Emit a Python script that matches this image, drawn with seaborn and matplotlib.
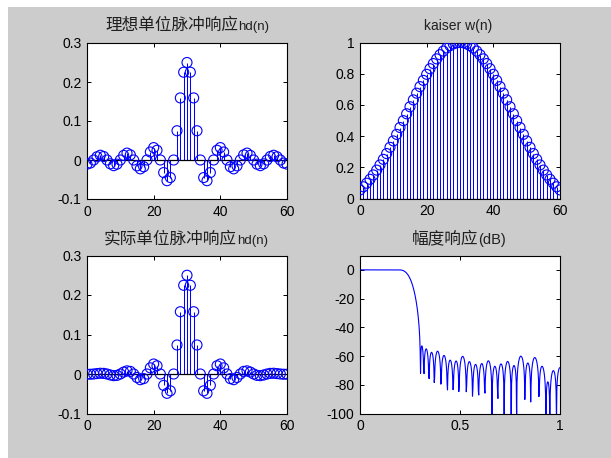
# FIR lowpass design with a kaiser window (N = 61), four panels like the MATLAB figure
import numpy as np
import pandas as pd
import matplotlib.pyplot as plt
from matplotlib.patches import Rectangle
import seaborn as sns

n = list(range(61))

# ideal impulse response hd(n) (n = 0 .. 60)
hd = [-0.0106, -0.0078, 0.0, 0.0083, 0.0122, 0.0090, 0.0, -0.0098, -0.0145, -0.0107,
      0.0, 0.0118, 0.0177, 0.0132, 0.0, -0.0150, -0.0227, -0.0173, 0.0, 0.0205,
      0.0318, 0.0250, 0.0, -0.0322, -0.0531, -0.0450, 0.0, 0.0750, 0.1592, 0.2251,
      0.2500,
      0.2251, 0.1592, 0.0750, 0.0, -0.0450, -0.0531, -0.0322, 0.0, 0.0250, 0.0318,
      0.0205, 0.0, -0.0173, -0.0227, -0.0150, 0.0, 0.0132, 0.0177, 0.0118, 0.0,
      -0.0107, -0.0145, -0.0098, 0.0, 0.0090, 0.0122, 0.0083, 0.0, -0.0078, -0.0106]

# kaiser window w(n)
wn = [0.055, 0.075, 0.098, 0.123, 0.151, 0.182, 0.215, 0.251, 0.288, 0.328,
      0.369, 0.411, 0.455, 0.499, 0.543, 0.588, 0.632, 0.675, 0.717, 0.757,
      0.796, 0.832, 0.865, 0.895, 0.922, 0.945, 0.965, 0.980, 0.991, 0.998,
      1.000,
      0.998, 0.991, 0.980, 0.965, 0.945, 0.922, 0.895, 0.865, 0.832, 0.796,
      0.757, 0.717, 0.675, 0.632, 0.588, 0.543, 0.499, 0.455, 0.411, 0.369,
      0.328, 0.288, 0.251, 0.215, 0.182, 0.151, 0.123, 0.098, 0.075, 0.055]

# actual impulse response h(n) = hd(n) * w(n)
h = [-0.0006, -0.0006, 0.0, 0.0010, 0.0019, 0.0016, 0.0, -0.0025, -0.0042, -0.0035,
     0.0, 0.0049, 0.0080, 0.0066, 0.0, -0.0088, -0.0144, -0.0117, 0.0, 0.0155,
     0.0253, 0.0208, 0.0, -0.0288, -0.0489, -0.0426, 0.0, 0.0735, 0.1577, 0.2246,
     0.2500,
     0.2246, 0.1577, 0.0735, 0.0, -0.0426, -0.0489, -0.0288, 0.0, 0.0208, 0.0253,
     0.0155, 0.0, -0.0117, -0.0144, -0.0088, 0.0, 0.0066, 0.0080, 0.0049, 0.0,
     -0.0035, -0.0042, -0.0025, 0.0, 0.0016, 0.0019, 0.0010, 0.0, -0.0006, -0.0006]

# magnitude response of h, 512 points on [0, pi) like freqz
H = np.fft.fft(np.array(h), 1024)[:512]
freq = pd.DataFrame({'w': np.arange(512) / 512,
                     'db': 20 * np.log10(np.abs(H) + 1e-12)})

sns.set_style('ticks')
plt.rcParams['font.family'] = ['Liberation Sans', 'Noto Sans CJK SC', 'DejaVu Sans']
plt.rcParams['axes.unicode_minus'] = False

BLUE = '#0000ff'
FW, FH = 611, 458
fig = plt.figure(figsize=(6.11, 4.58), dpi=100, facecolor='white')
fig.patches.append(Rectangle((8 / FW, 0), 1, 1 - 7 / FH, transform=fig.transFigure,
                             facecolor='#cccccc', edgecolor='none', zorder=-10))

W = 200 / FW
ax1 = fig.add_axes([87 / FW, 1 - 199 / FH, W, 156 / FH])
ax2 = fig.add_axes([360 / FW, 1 - 198.5 / FH, W, 156 / FH])
ax3 = fig.add_axes([87 / FW, 1 - 413.5 / FH, W, 158 / FH])
ax4 = fig.add_axes([360 / FW, 1 - 413.5 / FH, W, 158 / FH])


def stem(ax, x, y):
    ax.vlines(x, 0, y, color=BLUE, lw=0.75, zorder=2)
    ax.axhline(0, color='black', lw=0.9, zorder=3)
    sns.scatterplot(x=x, y=y, ax=ax, marker='o', s=52, facecolor='none',
                    edgecolor=BLUE, linewidth=0.8, zorder=4, legend=False)


stem(ax1, n, hd)
stem(ax2, n, wn)
stem(ax3, n, h)
sns.lineplot(data=freq, x='w', y='db', ax=ax4, color=BLUE, lw=0.8, estimator=None)

for ax in (ax1, ax3):
    ax.set_xlim(0, 60)
    ax.set_ylim(-0.1, 0.3)
    ax.set_yticks([-0.1, 0, 0.1, 0.2, 0.3], ['-0.1', '0', '0.1', '0.2', '0.3'])
    ax.set_xticks([0, 20, 40, 60])
ax2.set_xlim(0, 60)
ax2.set_ylim(0, 1)
ax2.set_xticks([0, 20, 40, 60])
ax2.set_yticks([0, 0.2, 0.4, 0.6, 0.8, 1], ['0', '0.2', '0.4', '0.6', '0.8', '1'])
ax4.set_xlim(0, 1)
ax4.set_ylim(-100, 10)
ax4.set_xticks([0, 0.5, 1], ['0', '0.5', '1'])
ax4.set_yticks([0, -20, -40, -60, -80, -100])

for ax in (ax1, ax2, ax3, ax4):
    ax.set_facecolor('white')
    ax.set_xlabel('')
    ax.set_ylabel('')
    for sp in ax.spines.values():
        sp.set_visible(True)
        sp.set_color('black')
        sp.set_linewidth(0.8)
    ax.tick_params(direction='in', length=3, width=0.7, top=True, right=True,
                   labelsize=10, colors='black')
    ax.tick_params(axis='y', pad=4)
    ax.tick_params(axis='x', pad=4)


# titles: chinese part and latin part in different sizes, like the MATLAB fonts
def title(cn, latin, xsplit, ybase, latin_size):
    fig.text(xsplit / FW, 1 - ybase / FH, cn, ha='right', va='baseline',
             fontsize=12, color='#202020')
    fig.text(xsplit / FW, 1 - ybase / FH, latin, ha='left', va='baseline',
             fontsize=latin_size, color='#202020')


title('理想单位脉冲响应', 'hd(n)', 238, 30, 9.5)
title('实际单位脉冲响应', 'hd(n)', 237, 244, 9.5)
title('幅度响应', '(dB)', 478, 244, 10.5)
fig.text(458 / FW, 1 - 30 / FH, 'kaiser w(n)', ha='center', va='baseline',
         fontsize=10, color='#202020')

fig.savefig('out.png', dpi=100, facecolor=fig.get_facecolor())
